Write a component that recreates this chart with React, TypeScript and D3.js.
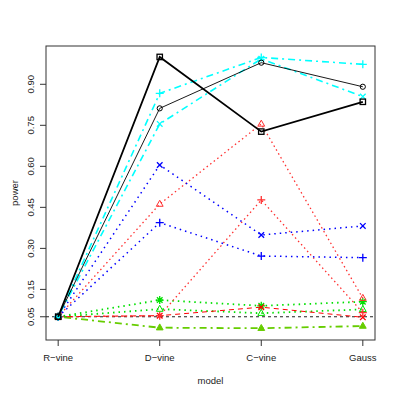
import React from "react";
import * as d3 from "d3";

const models = ["R\u2212vine", "D\u2212vine", "C\u2212vine", "Gauss"];
const yTicks = [0.05, 0.15, 0.3, 0.45, 0.6, 0.75, 0.9];

// power per model, one array per test
const greenFill = [0.05, 0.01, 0.008, 0.016];
const greenTri = [0.05, 0.078, 0.063, 0.077];
const greenStar = [0.05, 0.111, 0.09, 0.105];
const redCross = [0.05, 0.054, 0.085, 0.048];
const redPlus = [0.05, 0.054, 0.477, 0.065];
const redTri = [0.05, 0.462, 0.755, 0.118];
const bluePlus = [0.05, 0.394, 0.272, 0.266];
const blueCross = [0.05, 0.605, 0.349, 0.382];
const cyanCross = [0.05, 0.755, 0.993, 0.855];
const cyanPlus = [0.05, 0.867, 0.998, 0.973];
const blackCircle = [0.05, 0.812, 0.979, 0.891];
const blackSquare = [0.05, 1.0, 0.727, 0.836];

const series = [
  { v: greenFill, col: "#66CD00", dash: "2,4,7,4", w: 1.8, pch: "filltri" },
  { v: greenTri, col: "#00E000", dash: "1.5,4", w: 1.8, pch: "tri" },
  { v: greenStar, col: "#00E000", dash: "1.5,4", w: 1.8, pch: "star" },
  { v: redCross, col: "#FF0000", dash: "5,4", w: 1, pch: "x" },
  { v: redPlus, col: "#FF3030", dash: "1.5,3", w: 1.3, pch: "plus" },
  { v: redTri, col: "#FF3030", dash: "1.5,3", w: 1.3, pch: "tri" },
  { v: bluePlus, col: "#0000FF", dash: "1.5,4", w: 1.5, pch: "plus" },
  { v: blueCross, col: "#0000FF", dash: "1.5,4", w: 1.5, pch: "x" },
  { v: cyanCross, col: "#00FFFF", dash: "2,4,7,4", w: 1.6, pch: "x" },
  { v: cyanPlus, col: "#00FFFF", dash: "2,4,7,4", w: 1.6, pch: "plus" },
  { v: blackCircle, col: "#000000", dash: "", w: 0.9, pch: "circle" },
  { v: blackSquare, col: "#000000", dash: "", w: 1.8, pch: "square" },
];

function Marker({ x, y, pch, col }: { x: number; y: number; pch: string; col: string }) {
  const s = { stroke: col, strokeWidth: 1, fill: "none" };
  if (pch === "square") return <rect x={x - 2.7} y={y - 2.7} width={5.4} height={5.4} {...s} strokeWidth={1.3} />;
  if (pch === "circle") return <circle cx={x} cy={y} r={2.6} {...s} />;
  if (pch === "plus")
    return <path d={`M${x - 4},${y}H${x + 4}M${x},${y - 4}V${y + 4}`} {...s} strokeWidth={1.3} />;
  if (pch === "x")
    return <path d={`M${x - 2.8},${y - 2.8}L${x + 2.8},${y + 2.8}M${x - 2.8},${y + 2.8}L${x + 2.8},${y - 2.8}`} {...s} strokeWidth={1.3} />;
  const tri = `M${x},${y - 3.8}L${x + 3.4},${y + 2.2}L${x - 3.4},${y + 2.2}Z`;
  if (pch === "tri") return <path d={tri} {...s} />;
  if (pch === "filltri") return <path d={tri} fill={col} stroke={col} strokeWidth={1} />;
  // asterisk
  return (
    <path
      d={`M${x - 4},${y}H${x + 4}M${x},${y - 4}V${y + 4}M${x - 2.8},${y - 2.8}L${x + 2.8},${y + 2.8}M${x - 2.8},${y + 2.8}L${x + 2.8},${y - 2.8}`}
      {...s}
      strokeWidth={1.3}
    />
  );
}

export default function App() {
  const left = 46, right = 375, top = 46, bottom = 340;
  const x = d3.scaleLinear().domain([0.88, 4.12]).range([left, right]);
  const y = d3.scaleLinear().domain([-0.035, 1.04]).range([bottom, top]);
  const line = d3
    .line<number>()
    .x((_, i) => x(i + 1))
    .y((d) => y(d));
  const font = "Liberation Sans, Arial, sans-serif";

  return (
    <svg
      width={399}
      height={399}
      style={{ position: "absolute", left: 0, top: 0, background: "#fff" }}
      fontFamily={font}
      fontSize={9.5}
      fill="#222"
    >
      <rect x={left} y={top} width={right - left} height={bottom - top} fill="none" stroke="#333" />
      <line x1={left} x2={right} y1={y(0.05)} y2={y(0.05)} stroke="#222" strokeDasharray="3,3" />
      {series.map((s, i) => (
        <g key={i}>
          <path d={line(s.v) || ""} fill="none" stroke={s.col} strokeWidth={s.w} strokeDasharray={s.dash || undefined} />
          {s.v.map((d, j) => (
            <Marker key={j} x={x(j + 1)} y={y(d)} pch={s.pch} col={s.col} />
          ))}
        </g>
      ))}
      {/* x axis */}
      {models.map((m, i) => (
        <g key={m}>
          <line x1={x(i + 1)} x2={x(i + 1)} y1={bottom} y2={bottom + 6} stroke="#333" />
          <text x={x(i + 1)} y={361} textAnchor="middle">{m}</text>
        </g>
      ))}
      {/* y axis */}
      {yTicks.map((t) => (
        <g key={t}>
          <line x1={left - 6} x2={left} y1={y(t)} y2={y(t)} stroke="#333" />
          <text transform={`translate(33.5,${y(t)}) rotate(-90)`} textAnchor="middle">
            {t.toFixed(2)}
          </text>
        </g>
      ))}
      <text x={210.5} y={384} textAnchor="middle">model</text>
      <text transform={`translate(18,193) rotate(-90)`} textAnchor="middle">power</text>
    </svg>
  );
}
